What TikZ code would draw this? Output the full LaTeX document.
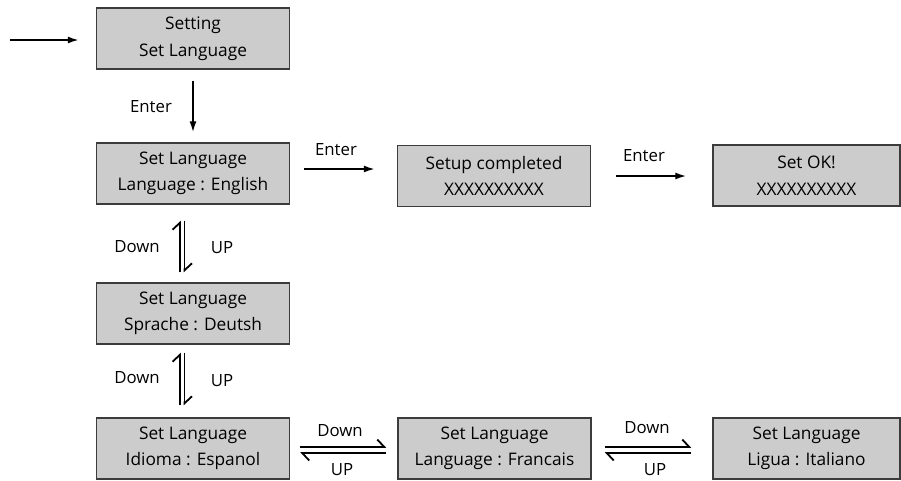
\documentclass[tikz,border=0pt]{standalone}
\usepackage{fontspec}
\setmainfont{Open Sans}
\usetikzlibrary{arrows.meta}
\definecolor{boxfill}{HTML}{CCCCCC}
\definecolor{boxline}{HTML}{3C3C3C}
\begin{document}
\begin{tikzpicture}[x=1pt,y=-1pt,
  screen/.style={draw=boxline,line width=1.3pt,fill=boxfill,minimum width=193pt,minimum height=61pt,inner sep=0pt,align=center,font=\fontsize{17.3}{26.5}\selectfont},
  lbl/.style={font=\fontsize{16.8}{18}\selectfont,inner sep=0pt},
  arr/.style={line width=1.8pt,-{Latex[length=11pt,width=7pt]}},
  harp/.style={line width=1.8pt,-{Straight Barb[left,length=7pt,width=15pt,line width=1.8pt]}}]
\useasboundingbox (0,0) rectangle (901,480);
\node[screen] (b1) at (193,38.5) {Setting\\Set Language};
\node[screen] (b2) at (193,173.5) {Set Language\\Language : English};
\node[screen] (b3) at (494,176) {Setup completed\\XXXXXXXXXX};
\node[screen,minimum width=187pt] (b4) at (806.5,175.5) {Set OK!\\XXXXXXXXXX};
\node[screen] (b5) at (193,313.5) {Set Language\\Sprache : Deutsh};
\node[screen] (b6) at (193,448.5) {Set Language\\Idioma : Espanol};
\node[screen] (b7) at (494.5,448.5) {Set Language\\Language : Francais};
\node[screen,minimum width=187pt] (b8) at (806.5,448.5) {Set Language\\Ligua : Italiano};
\coordinate (start) at (10,40);
% arrows
\draw[arr,shorten >=17pt] (start) -- (start -| b1.west);
\draw[arr,shorten <=11pt,shorten >=10pt] (b1.south) -- (b2.north);
\draw[arr,shorten <=14pt,shorten >=22pt] ([yshift=4.5pt]b2.east) -- ([yshift=4.5pt]b2.east -| b3.west);
\draw[arr,shorten <=25pt,shorten >=26pt] (b3.east) -- (b3.east -| b4.west);
% vertical harpoons
\draw[harp,shorten <=10pt,shorten >=16pt] ([xshift=-13pt]b5.north) -- ([xshift=-13pt]b2.south);
\draw[harp,shorten <=16pt,shorten >=10pt] ([xshift=-8.5pt]b2.south) -- ([xshift=-8.5pt]b5.north);
\draw[harp,shorten <=12pt,shorten >=8pt] ([xshift=-13pt]b6.north) -- ([xshift=-13pt]b5.south);
\draw[harp,shorten <=8pt,shorten >=12pt] ([xshift=-8.5pt]b5.south) -- ([xshift=-8.5pt]b6.north);
% horizontal harpoons
\draw[harp,shorten <=10pt,shorten >=11pt] ([yshift=1.5pt]b6.east) -- ([yshift=1.5pt]b7.west);
\draw[harp,shorten <=11pt,shorten >=10pt] ([yshift=-4.5pt]b7.west) -- ([yshift=-4.5pt]b6.east);
\draw[harp,shorten <=13pt,shorten >=21pt] ([yshift=1.5pt]b7.east) -- ([yshift=1.5pt]b8.west);
\draw[harp,shorten <=21pt,shorten >=13pt] ([yshift=-4.5pt]b8.west) -- ([yshift=-4.5pt]b7.east);
% labels
\node[lbl] (e1) at (151,107) {Enter};
\node[lbl] (e2) at (336,150) {Enter};
\node[lbl] (e3) at (644,156) {Enter};
\node[lbl] (d1) at (137,247) {Down};
\node[lbl] (u1) at (222,248) {UP};
\node[lbl] (d2) at (137,378) {Down};
\node[lbl] (u2) at (222,381) {UP};
\node[lbl] (d3) at (340,431) {Down};
\node[lbl] (u3) at (342,470) {UP};
\node[lbl] (d4) at (647,428) {Down};
\node[lbl] (u4) at (655,470) {UP};
\end{tikzpicture}
\end{document}
